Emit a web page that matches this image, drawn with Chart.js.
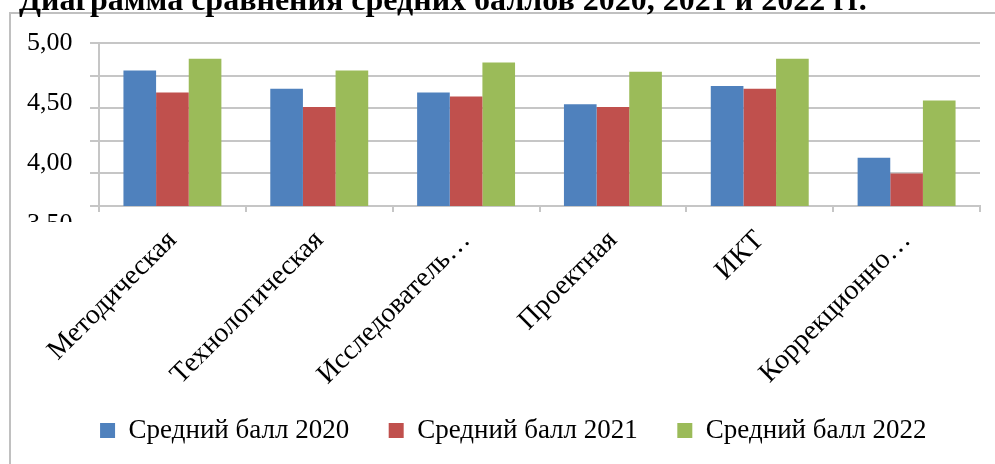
<!DOCTYPE html>
<html>
<head>
<meta charset="utf-8">
<script src="https://cdn.jsdelivr.net/npm/chart.js@4"></script>
<style>
  html, body { margin: 0; padding: 0; background: #fff; }
  #wrap { width: 995px; height: 464px; position: relative; }
</style>
</head>
<body>
<div id="wrap"><canvas id="c" width="995" height="464"></canvas></div>
<script>
const titleText = 'Диаграмма сравнения средних баллов 2020, 2021 и 2022 гг.';
const categories = ['Методическая', 'Технологическая', 'Исследователь…', 'Проектная', 'ИКТ', 'Коррекционно…'];
const seriesNames = ['Средний балл 2020', 'Средний балл 2021', 'Средний балл 2022'];
const score2020 = [4.79, 4.65, 4.62, 4.53, 4.67, 4.12];
const score2021 = [4.62, 4.51, 4.59, 4.51, 4.65, 4.00];
const score2022 = [4.88, 4.79, 4.85, 4.78, 4.88, 4.56];
const yLabelValues = [5.0, 4.5, 4.0, 3.5];

const colors = ['#4F81BD', '#C0504D', '#9BBB59'];
const FONT = '"Liberation Serif", "Times New Roman", serif';
const fmt = v => v.toFixed(2).replace('.', ',');

const framePlugin = {
  id: 'frame',
  beforeDraw(chart) {
    const ctx = chart.ctx;
    ctx.save();
    ctx.strokeStyle = '#c0c0c0';
    ctx.lineWidth = 2;
    ctx.strokeRect(10, 13, 1100, 600);
    ctx.restore();
  },
  afterDraw(chart) {
    const ctx = chart.ctx;
    ctx.save();
    ctx.fillStyle = '#000';
    ctx.font = 'bold 32px ' + FONT;
    ctx.textAlign = 'left';
    ctx.textBaseline = 'alphabetic';
    ctx.fillText(titleText, 19, 9.5);
    // lowest axis label, partly hidden under the category labels area
    const yl = chart.scales.yl;
    const last = yLabelValues[yLabelValues.length - 1];
    const p = yl.getPixelForValue(last);
    ctx.beginPath();
    ctx.rect(0, 0, 995, 222);
    ctx.clip();
    ctx.font = '26px ' + FONT;
    ctx.textAlign = 'left';
    ctx.textBaseline = 'middle';
    ctx.fillText(fmt(last), yl.right + yl.options.ticks.padding, p);
    ctx.restore();
  }
};

new Chart(document.getElementById('c'), {
  type: 'bar',
  data: {
    labels: categories,
    datasets: [
      { label: seriesNames[0], data: score2020, backgroundColor: colors[0], borderWidth: 0 },
      { label: seriesNames[1], data: score2021, backgroundColor: colors[1], borderWidth: 0 },
      { label: seriesNames[2], data: score2022, backgroundColor: colors[2], borderWidth: 0 }
    ]
  },
  options: {
    responsive: false,
    animation: false,
    devicePixelRatio: 1,
    layout: { padding: { left: 60, right: 15, top: 43, bottom: 10 } },
    datasets: { bar: { barPercentage: 1, categoryPercentage: 0.667 } },
    plugins: {
      title: { display: false },
      tooltip: { enabled: false },
      legend: {
        position: 'bottom',
        labels: {
          font: { family: FONT, size: 27 },
          color: '#000',
          boxWidth: 15,
          boxHeight: 15,
          padding: 26,
          generateLabels(chart) {
            const items = Chart.defaults.plugins.legend.labels.generateLabels(chart);
            items.forEach(it => { it.text = it.text + '\u00A0\u00A0'; it.lineWidth = 0; });
            return items;
          }
        }
      }
    },
    scales: {
      x: {
        offset: true,
        grid: { display: true, drawOnChartArea: false, drawTicks: true, tickLength: 6, color: '#c6c6c6', lineWidth: 2 },
        border: { display: true, color: '#c6c6c6', width: 2 },
        ticks: {
          autoSkip: false, minRotation: 45, maxRotation: 45,
          font: { family: FONT, size: 28 }, color: '#000', padding: 12
        },
        afterFit(s) { s.height = 185; }
      },
      y: {
        position: 'left',
        weight: 0,
        min: 3.75, max: 5,
        ticks: { stepSize: 0.25, display: false },
        grid: { color: '#c6c6c6', lineWidth: 2, tickLength: 9, drawTicks: true },
        border: { display: true, color: '#c6c6c6', width: 2 }
      },
      yl: {
        position: 'left',
        weight: 1,
        min: 3.649, max: 5,
        grid: { display: false, drawTicks: false },
        border: { display: false },
        ticks: {
          stepSize: 0.5,
          mirror: true,
          padding: -63,
          font: { family: FONT, size: 26 },
          color: '#000',
          callback: (v) => yLabelValues.some(t => Math.abs(t - v) < 1e-6) ? fmt(v) : null
        },
        afterFit(s) { s.width = 30; }
      }
    }
  },
  plugins: [framePlugin]
});
</script>
</body>
</html>
